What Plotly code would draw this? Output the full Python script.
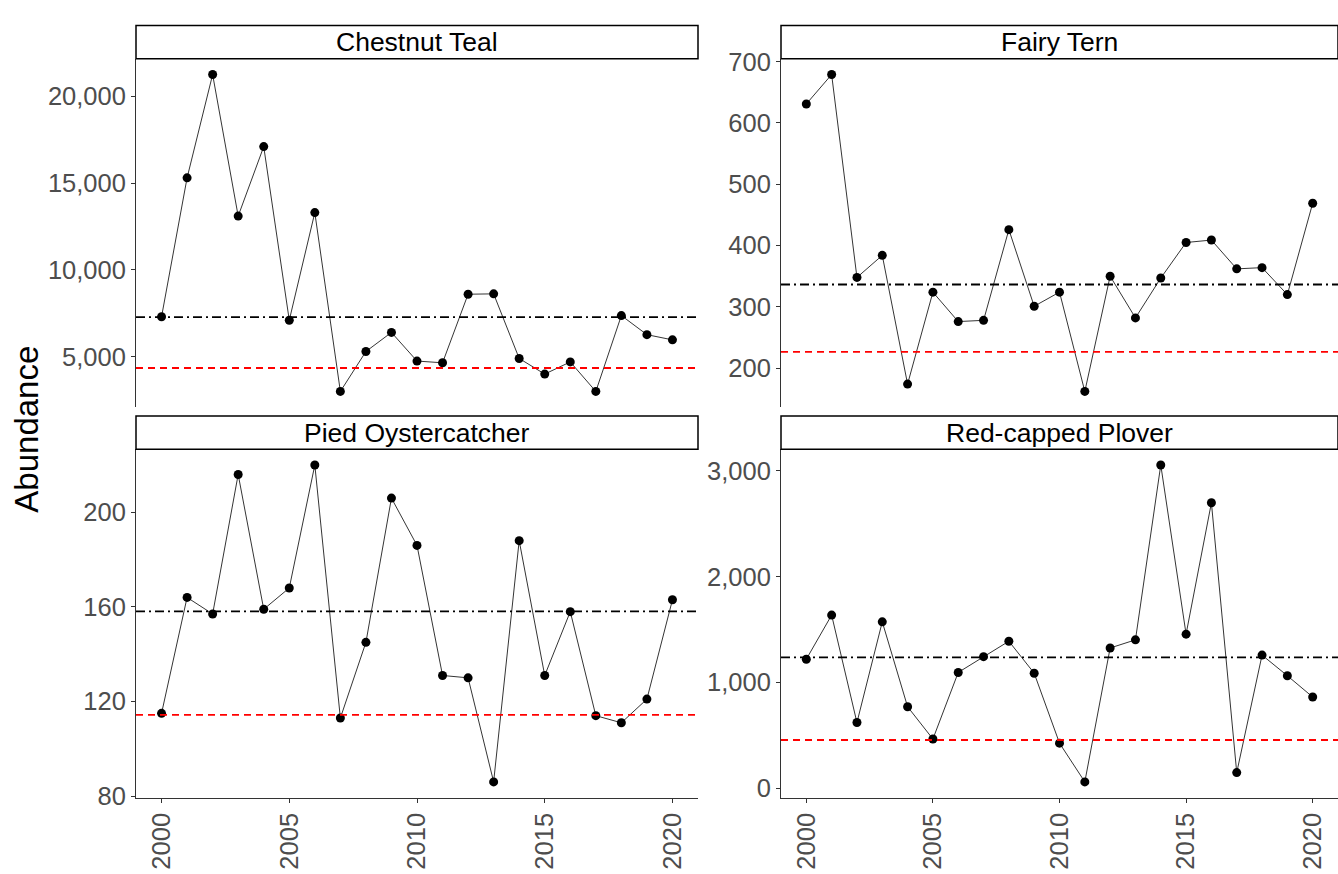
import plotly.graph_objects as go

years = list(range(2000, 2021))

species = ["Chestnut Teal", "Fairy Tern", "Pied Oystercatcher", "Red-capped Plover"]

chestnut_teal = [7300, 15300, 21250, 13100, 17100, 7100, 13300, 3000, 5300, 6400, 4750,
                 4650, 8600, 8620, 4900, 4000, 4700, 3000, 7370, 6270, 5970]
fairy_tern = [631, 679, 348, 384, 174, 324, 276, 278, 426, 301, 324,
              162, 350, 282, 347, 405, 409, 362, 364, 320, 469]
pied_oystercatcher = [115, 164, 157, 216, 159, 168, 220, 113, 145, 206, 186,
                      131, 130, 86, 188, 131, 158, 114, 111, 121, 163]
red_capped_plover = [1220, 1637, 622, 1573, 771, 466, 1095, 1244, 1390, 1088, 427,
                     61, 1326, 1403, 3055, 1457, 2698, 149, 1259, 1064, 863]

series = [chestnut_teal, fairy_tern, pied_oystercatcher, red_capped_plover]

# long-term mean (black dot-dash) and threshold (red dashed) per species
mean_level = [7280, 336.5, 158.1, 1238]
threshold_level = [4350, 226.5, 114.3, 457]

y_dtick = [5000, 100, 40, 1000]

W, H = 1338, 874
FONT = "Liberation Sans, Arial, sans-serif"
TICK_COL = "#4D4D4D"
AXIS_COL = "#333333"

# panel boxes in pixels: (left, right, top, bottom) of plotting area
panels = [
    (136, 698, 49, 407),
    (781, 1338, 49, 407),
    (136, 698, 450, 808),
    (781, 1338, 450, 808),
]
strip_h = 34

fig = go.Figure()
shapes = []
annotations = []

for i, (name, vals) in enumerate(zip(species, series)):
    n = i + 1
    xa = "x" if n == 1 else f"x{n}"
    ya = "y" if n == 1 else f"y{n}"
    left, right, top, bottom = panels[i]
    bottom_row = i >= 2

    fig.add_trace(go.Scatter(
        x=years, y=vals, mode="lines+markers",
        line=dict(color="black", width=0.8),
        marker=dict(color="black", size=9),
        xaxis=xa, yaxis=ya, showlegend=False,
    ))

    lo = min(vals + [mean_level[i], threshold_level[i]])
    hi = max(vals + [mean_level[i], threshold_level[i]])
    pad = 0.05 * (hi - lo)

    xkw = dict(
        domain=[left / W, right / W],
        range=[1999, 2021],
        anchor=ya,
        showgrid=False, zeroline=False,
    )
    if bottom_row:
        xkw.update(
            showline=True, linecolor=AXIS_COL, linewidth=1,
            ticks="outside", ticklen=4, tickcolor=AXIS_COL, tickwidth=1,
            tickvals=[2000, 2005, 2010, 2015, 2020], tickangle=-90,
            tickfont=dict(family=FONT, size=25.5, color=TICK_COL),
            showticklabels=True,
        )
    else:
        xkw.update(showline=False, ticks="", showticklabels=False)

    ykw = dict(
        domain=[(H - bottom) / H, (H - top) / H],
        range=[lo - pad, hi + pad],
        anchor=xa,
        showgrid=False, zeroline=False,
        showline=True, linecolor=AXIS_COL, linewidth=1,
        ticks="outside", ticklen=4, tickcolor=AXIS_COL, tickwidth=1,
        tick0=0, dtick=y_dtick[i], tickformat=",d",
        tickfont=dict(family=FONT, size=25.5, color=TICK_COL),
    )
    fig.update_layout(**{("xaxis" if n == 1 else f"xaxis{n}"): xkw,
                         ("yaxis" if n == 1 else f"yaxis{n}"): ykw})

    # reference levels
    shapes.append(dict(type="line", xref=f"{xa} domain", yref=ya,
                       x0=0, x1=1, y0=mean_level[i], y1=mean_level[i],
                       line=dict(color="black", width=1.8, dash="9px,4px,2px,4px")))
    shapes.append(dict(type="line", xref=f"{xa} domain", yref=ya,
                       x0=0, x1=1, y0=threshold_level[i], y1=threshold_level[i],
                       line=dict(color="red", width=1.8, dash="7px,5px")))

    # facet strip
    s_top = top - strip_h
    shapes.append(dict(type="rect", xref="paper", yref="paper",
                       x0=left / W, x1=right / W,
                       y0=(H - top) / H, y1=(H - s_top) / H,
                       fillcolor="white", line=dict(color="black", width=1.5)))
    annotations.append(dict(
        text=name, xref="paper", yref="paper",
        x=(left + right) / 2 / W, y=(H - (top + s_top) / 2) / H,
        xanchor="center", yanchor="middle", showarrow=False,
        font=dict(family=FONT, size=26.5, color="black"),
    ))

annotations.append(dict(
    text="Abundance", xref="paper", yref="paper",
    x=27 / W, y=(H - 430) / H, textangle=-90,
    xanchor="center", yanchor="middle", showarrow=False,
    font=dict(family=FONT, size=33, color="black"),
))

fig.update_layout(
    width=W, height=H,
    margin=dict(l=0, r=0, t=0, b=0),
    paper_bgcolor="white", plot_bgcolor="white",
    shapes=shapes, annotations=annotations,
    font=dict(family=FONT),
)

fig.write_html("out.html")
